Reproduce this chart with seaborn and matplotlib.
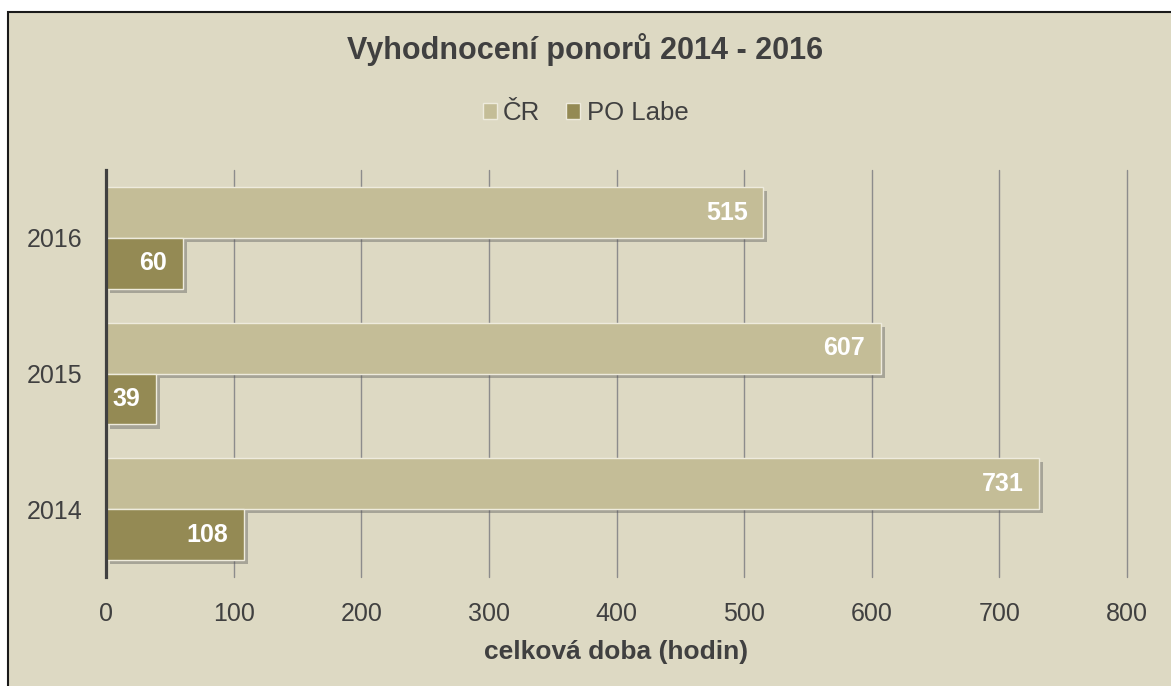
import seaborn as sns
import numpy as np
import matplotlib.pyplot as plt
import pandas as pd
import matplotlib
from matplotlib import patheffects

# data
years = ['2016', '2015', '2014']
series = ['ČR', 'PO Labe']
cr_hours = [515, 607, 731]
labe_hours = [60, 39, 108]
xticks = [0, 100, 200, 300, 400, 500, 600, 700, 800]

df = pd.DataFrame({'Rok': years * 2,
                   'Oblast': [series[0]] * 3 + [series[1]] * 3,
                   'Hodin': cr_hours + labe_hours})

sns.set_style("white")
plt.rcParams['font.family'] = ['Liberation Sans', 'DejaVu Sans']

bg = '#DDD9C3'
txt = '#404040'
col = ['#C4BD97', '#948A54']

fig = plt.figure(figsize=(11.71, 6.86), dpi=100)
fig.patch.set_facecolor('white')
# chart area frame
frame = matplotlib.patches.Rectangle((8 / 1171, -0.01), 1.0, 1 - 12 / 686 + 0.01,
                                     transform=fig.transFigure, facecolor=bg,
                                     edgecolor='#1a1a1a', linewidth=1.5, zorder=-10)
fig.patches.append(frame)

ax = fig.add_axes([106 / 1171, 0.159, (1127 - 106) / 1171, 0.752 - 0.159])
ax.set_facecolor('none')

sns.barplot(data=df, y='Rok', x='Hodin', hue='Oblast', order=years,
            hue_order=series, palette=col, orient='h', width=0.75,
            saturation=1, edgecolor='#EEEBDD', linewidth=1, ax=ax, zorder=3)

shadow = [patheffects.SimplePatchShadow(offset=(3, -3), shadow_rgbFace='#555555', alpha=0.4),
          patheffects.Normal()]
for cont in ax.containers:
    for p in cont:
        p.set_path_effects(shadow)
        w = p.get_width()
        ax.text(w - 12, p.get_y() + p.get_height() / 2, '%d' % w, color='white',
                fontsize=18, fontweight='bold', ha='right', va='center', zorder=5)

ax.set_xlim(0, 800)
ax.set_xticks(xticks)
ax.xaxis.grid(True, color='#8C8C8C', linewidth=1)
for gl in ax.get_xgridlines():
    gl.set_clip_on(False)
ax.set_axisbelow(True)
for s in ['top', 'right', 'bottom']:
    ax.spines[s].set_visible(False)
ax.spines['left'].set_color(txt)
ax.spines['left'].set_linewidth(2.3)
ax.spines['left'].set_zorder(6)
ax.tick_params(axis='both', length=0, labelsize=18, colors=txt)
ax.tick_params(axis='y', pad=17)
ax.tick_params(axis='x', pad=18)
ax.set_ylabel('')
ax.set_xlabel('celková doba (hodin)', fontsize=19, fontweight='bold', color=txt, labelpad=10)

ax.get_legend().remove()
handles = [matplotlib.patches.Patch(facecolor=c, edgecolor='#EEEBDD', label=l) for c, l in zip(col, series)]
fig.legend(handles=handles, loc='center', bbox_to_anchor=(0.5, 1 - 113 / 686), ncol=2,
           frameon=False, fontsize=18.5, handlelength=0.55, handleheight=0.55,
           handletextpad=0.25, columnspacing=1.0, labelcolor=txt)

fig.text(0.5, 1 - 50 / 686, 'Vyhodnocení ponorů 2014 - 2016', ha='center', va='center',
         fontsize=22, fontweight='bold', color=txt)

fig.savefig('out.png', dpi=100, facecolor=fig.get_facecolor())
